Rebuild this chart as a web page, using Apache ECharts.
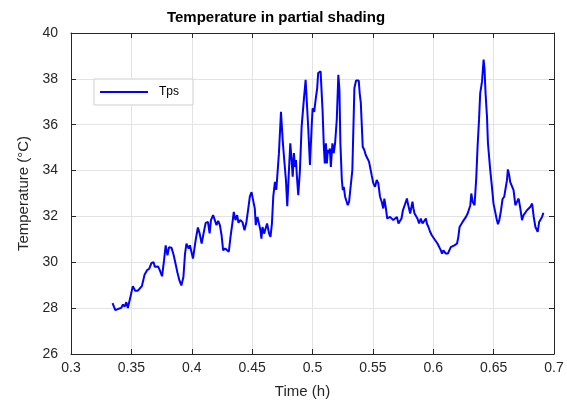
<!DOCTYPE html>
<html>
<head>
<meta charset="utf-8">
<script src="https://cdn.jsdelivr.net/npm/echarts@6/dist/echarts.min.js"></script>
<style>
html,body{margin:0;padding:0;background:#fff;}
#chart{width:567px;height:406px;}
</style>
</head>
<body>
<div id="chart"></div>
<script>
// Time (h)
var timeH = [
0.3344,0.3367,0.3388,0.3416,0.3430,0.3444,0.3458,0.3471,0.3491,0.3512,
0.3532,0.3554,0.3570,0.3587,0.3609,0.3631,0.3648,0.3666,0.3683,0.3694,
0.3721,0.3735,0.3754,0.3770,0.3784,0.3799,0.3812,0.3832,0.3848,0.3865,
0.3881,0.3898,0.3914,0.3931,0.3944,0.3956,0.3975,0.3985,0.4010,0.4032,
0.4051,0.4065,0.4082,0.4098,0.4115,0.4134,0.4148,0.4159,0.4177,0.4191,
0.4205,0.4219,0.4233,0.4247,0.4260,0.4277,0.4293,0.4307,0.4321,0.4338,
0.4348,0.4362,0.4376,0.4387,0.4401,0.4420,0.4437,0.4453,0.4470,0.4481,
0.4495,0.4508,0.4522,0.4530,0.4544,0.4558,0.4569,0.4577,0.4586,0.4599,
0.4613,0.4624,0.4640,0.4652,0.4664,0.4675,0.4689,0.4700,0.4712,0.4722,
0.4739,0.4753,0.4766,0.4780,0.4791,0.4805,0.4816,0.4827,0.4836,0.4846,
0.4855,0.4863,0.4871,0.4882,0.4896,0.4910,0.4926,0.4943,0.4954,0.4964,
0.4979,0.4993,0.5001,0.5014,0.5026,0.5039,0.5047,0.5067,0.5075,0.5083,
0.5094,0.5102,0.5111,0.5119,0.5127,0.5136,0.5144,0.5152,0.5165,0.5176,
0.5187,0.5201,0.5214,0.5223,0.5231,0.5243,0.5251,0.5259,0.5270,0.5281,
0.5292,0.5303,0.5317,0.5330,0.5347,0.5361,0.5383,0.5391,0.5400,0.5416,
0.5429,0.5441,0.5454,0.5468,0.5476,0.5490,0.5504,0.5518,0.5532,0.5545,
0.5559,0.5573,0.5586,0.5595,0.5606,0.5619,0.5628,0.5642,0.5656,0.5669,
0.5685,0.5699,0.5712,0.5726,0.5737,0.5749,0.5768,0.5782,0.5790,0.5801,
0.5809,0.5817,0.5828,0.5836,0.5845,0.5859,0.5869,0.5883,0.5897,0.5911,
0.5925,0.5939,0.5947,0.5960,0.5974,0.5988,0.6002,0.6016,0.6024,0.6035,
0.6049,0.6063,0.6073,0.6084,0.6092,0.6104,0.6121,0.6131,0.6145,0.6159,
0.6175,0.6185,0.6197,0.6208,0.6218,0.6232,0.6243,0.6257,0.6271,0.6285,
0.6299,0.6307,0.6315,0.6326,0.6342,0.6356,0.6367,0.6379,0.6389,0.6404,
0.6417,0.6425,0.6433,0.6445,0.6453,0.6464,0.6472,0.6486,0.6499,0.6513,
0.6524,0.6536,0.6547,0.6561,0.6574,0.6588,0.6599,0.6610,0.6618,0.6629,
0.6637,0.6651,0.6665,0.6680,0.6694,0.6707,0.6721,0.6735,0.6748,0.6762,
0.6776,0.6790,0.6805,0.6819,0.6832,0.6846,0.6857,0.6865,0.6877,0.6890,
0.6901,0.6912
];
// Tps temperature (°C)
var tps = [
28.22,27.91,27.96,28.01,28.16,28.06,28.26,28.01,28.46,28.96,
28.76,28.76,28.76,28.96,29.46,29.66,29.72,29.96,30.01,29.81,
29.82,29.66,29.39,30.06,30.74,30.30,30.66,30.64,30.36,29.96,
29.56,29.21,28.99,29.36,30.36,30.81,30.60,30.74,30.16,30.96,
31.52,31.26,30.82,31.26,31.72,31.76,31.26,31.84,32.06,31.84,
31.62,31.81,31.62,31.18,30.52,30.60,30.66,30.46,31.11,31.76,
32.20,31.84,32.06,31.72,31.84,31.76,31.40,31.76,32.42,32.86,
33.06,32.71,32.35,31.62,31.98,31.91,31.40,31.03,31.54,31.25,
31.18,31.69,31.26,31.11,31.69,32.86,33.51,33.16,34.02,34.76,
36.56,35.33,34.46,33.59,32.45,34.02,35.19,34.46,33.73,34.76,
34.16,34.46,33.73,32.93,34.02,35.92,36.94,37.96,38.03,35.92,
34.24,35.92,36.72,36.56,37.09,37.60,38.25,38.33,38.40,36.66,
35.04,34.31,35.19,34.31,34.90,34.76,34.96,34.16,35.19,34.76,
35.19,36.21,38.18,37.52,35.19,33.59,33.15,33.29,32.86,32.93,
32.49,32.64,33.36,34.02,37.60,37.93,37.93,37.36,36.96,35.04,
34.90,34.68,34.61,34.39,34.46,33.80,33.44,33.29,33.59,33.44,
32.86,32.64,32.35,32.78,32.42,31.91,31.98,31.98,31.91,31.84,
31.91,31.98,31.69,31.62,31.91,32.27,32.56,32.78,32.56,32.64,
32.13,32.35,32.64,32.35,32.13,32.06,31.91,31.69,31.91,31.69,
31.69,31.91,31.69,31.54,31.33,31.18,31.11,30.96,31.03,30.82,
30.74,30.52,30.38,30.52,30.60,30.38,30.38,30.45,30.66,30.74,
30.74,30.82,30.82,31.11,31.54,31.62,31.76,31.81,31.98,32.13,
32.20,32.49,33.00,32.64,32.49,33.66,35.04,36.21,37.38,37.89,
38.84,38.40,37.38,36.36,35.19,35.12,34.02,33.29,32.56,32.20,
31.91,31.66,31.84,32.26,32.76,32.86,33.22,33.56,34.05,33.80,
33.51,33.51,33.15,32.49,32.64,32.78,32.35,31.84,32.06,32.13,
32.27,32.20,32.42,32.56,31.98,31.54,31.62,31.33,31.76,31.84,
31.98,32.16
];
var xTicks = [0.3,0.35,0.4,0.45,0.5,0.55,0.6,0.65,0.7];
var yTicks = [26,28,30,32,34,36,38,40];

var seriesData = timeH.map(function(t,i){return [t,tps[i]];});
var font = 'Liberation Sans, Arial, Helvetica, sans-serif';
var axisColor = '#262626';
var gridColor = '#e3e3e3';

var chart = echarts.init(document.getElementById('chart'), null, {renderer:'canvas'});
function baseX(extra){
  return Object.assign({
    type:'value', min:xTicks[0], max:xTicks[xTicks.length-1], interval:0.05,
    axisLine:{show:true,onZero:false,lineStyle:{color:axisColor,width:1}},
    axisTick:{show:true,inside:true,length:5,lineStyle:{color:axisColor}},
    splitLine:{show:false}
  }, extra);
}
function baseY(extra){
  return Object.assign({
    type:'value', min:yTicks[0], max:yTicks[yTicks.length-1], interval:2,
    axisLine:{show:true,onZero:false,lineStyle:{color:axisColor,width:1}},
    axisTick:{show:true,inside:true,length:5,lineStyle:{color:axisColor}},
    splitLine:{show:false}
  }, extra);
}
chart.setOption({
  animation:false,
  backgroundColor:'#ffffff',
  title:{
    text:'Temperature in partial shading',
    left:271, top:5, textAlign:'center',
    textStyle:{fontFamily:font,fontSize:15,fontWeight:'bold',color:'#000'}
  },
  legend:{
    left:94, top:79,
    orient:'vertical',
    backgroundColor:'#ffffff',
    borderColor:'#cfcfcf', borderWidth:1,
    padding:[7,14,7,6],
    itemWidth:48, itemHeight:12, itemGap:4,
    textStyle:{fontFamily:font,fontSize:12,color:'#000',padding:[0,0,0,6]},
    data:[{name:'Tps',icon:'path://M0,5 L48,5 L48,7 L0,7 Z'}]
  },
  grid:{left:71,right:13,top:33,bottom:52,containLabel:false},
  xAxis:[
    baseX({
      position:'bottom',
      name:'Time (h)', nameLocation:'middle', nameGap:30,
      nameTextStyle:{fontFamily:font,fontSize:15,color:axisColor,padding:[0,20,0,0]},
      axisLabel:{show:true,margin:7,fontFamily:font,fontSize:14,color:axisColor,
        formatter:function(v){return String(Math.round(v*100)/100);}},
      splitLine:{show:true,lineStyle:{color:gridColor,width:1}}
    }),
    baseX({position:'top',axisLabel:{show:false}})
  ],
  yAxis:[
    baseY({
      position:'left',
      name:'Temperature (°C)', nameLocation:'middle', nameGap:40,
      nameTextStyle:{fontFamily:font,fontSize:15,color:axisColor},
      axisLabel:{show:true,margin:13,fontFamily:font,fontSize:14,color:axisColor},
      splitLine:{show:true,lineStyle:{color:gridColor,width:1}}
    }),
    baseY({position:'right',axisLabel:{show:false}})
  ],
  series:[{
    name:'Tps', type:'line', xAxisIndex:0, yAxisIndex:0,
    data:seriesData, showSymbol:false, symbol:'none',
    lineStyle:{color:'#0000ff',width:2},
    itemStyle:{color:'#0000ff'}
  }]
});
</script>
</body>
</html>
